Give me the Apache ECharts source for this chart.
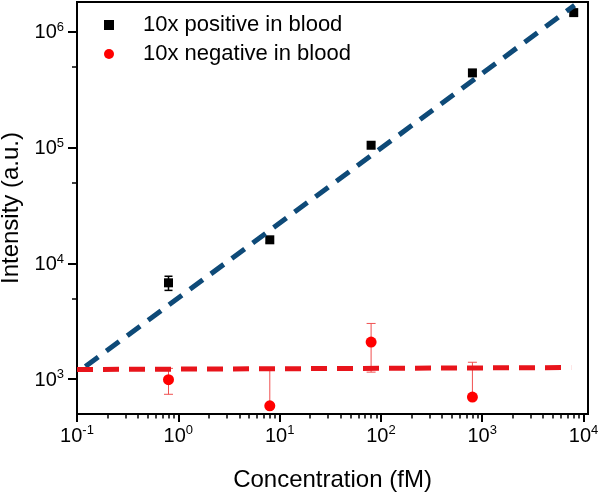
<!DOCTYPE html>
<html>
<head>
<meta charset="utf-8">
<script src="https://cdn.jsdelivr.net/npm/echarts@6/dist/echarts.min.js"></script>
<style>html,body{margin:0;padding:0;background:#fff}#c{width:600px;height:495px}</style>
</head>
<body>
<div id="c"></div>
<script>
// ---- data ----
const posX = [0.8, 8, 80, 800, 8000];
const posY = [6800, 16000, 105000, 443000, 1470000];
const posErr = [950, 900, 6000, 25000, 80000];
const negX = [0.8, 8, 80, 800];
const negY = [990, 589, 2090, 700];
const negErr = [250, 664, 940, 700];
const fitPosX = [0.121, 8150];
const fitPosY = [1285, 1700000];
const fitNegX = [0.1, 7540];
const fitNegY = [1211, 1260];
const xMajorTicks = [0.1, 1, 10, 100, 1000, 10000];
const yMajorTicks = [1000, 10000, 100000, 1000000];
const xMinorMult = [2, 3, 4, 5, 6, 7, 8, 9];
const yMinorMult = [5];
const seriesNames = ['10x positive in blood', '10x negative in blood'];

const FONT = "'Liberation Sans', Arial, sans-serif";
const xMin = 0.1, xMax = Math.pow(10, 4.044);
const yMin = 500, yMax = Math.pow(10, 6.259);

function minorList(majors, mults, lo, hi) {
  const out = [];
  majors.concat([majors[0] / 10]).forEach(m => mults.forEach(k => {
    const v = m * k; if (v > lo * 1.0001 && v < hi * 0.9999) out.push(v);
  }));
  return out;
}
const xMinor = minorList(xMajorTicks, xMinorMult, xMin, xMax);
const yMinor = minorList(yMajorTicks, yMinorMult, yMin, yMax);

function supFmt(v) {
  const e = Math.round(Math.log10(v));
  return '{b|10}{s|' + e + '}';
}
const rich = {
  b: { fontSize: 20, fontFamily: FONT, color: '#000', verticalAlign: 'bottom' },
  s: { fontSize: 13, fontFamily: FONT, color: '#000', verticalAlign: 'bottom', padding: [0, 0, 9, 0] }
};

function errData(xs, ys, es) {
  return xs.map((x, i) => [x, ys[i], ys[i] - es[i], ys[i] + es[i]]);
}
function errRender(color, lw, capW) {
  return function (params, api) {
    const x = api.value(0), lo = api.value(2), hi = api.value(3), y = api.value(1);
    const pc = api.coord([x, y]);
    const children = [];
    const top = api.coord([x, hi]);
    children.push({ type: 'line', shape: { x1: pc[0], y1: pc[1], x2: top[0], y2: top[1] }, style: { stroke: color, lineWidth: lw } });
    children.push({ type: 'line', shape: { x1: top[0] - capW, y1: top[1], x2: top[0] + capW, y2: top[1] }, style: { stroke: color, lineWidth: lw } });
    if (lo > 0) {
      const bot = api.coord([x, lo]);
      children.push({ type: 'line', shape: { x1: pc[0], y1: pc[1], x2: bot[0], y2: bot[1] }, style: { stroke: color, lineWidth: lw } });
      children.push({ type: 'line', shape: { x1: bot[0] - capW, y1: bot[1], x2: bot[0] + capW, y2: bot[1] }, style: { stroke: color, lineWidth: lw } });
    }
    return { type: 'group', children: children };
  };
}

const chart = echarts.init(document.getElementById('c'), null, { renderer: 'canvas' });
const grid = { left: 77, right: 12, top: 2, bottom: 81, containLabel: false, outerBoundsMode: 'none', show: true, borderColor: '#000', borderWidth: 2, backgroundColor: 'transparent' };

const baseX = { type: 'log', min: xMin, max: xMax, logBase: 10, splitLine: { show: false }, minorTick: { show: false } };
const baseY = { type: 'log', min: yMin, max: yMax, logBase: 10, splitLine: { show: false }, minorTick: { show: false } };

chart.setOption({
  animation: false,
  backgroundColor: '#fff',
  grid: grid,
  legend: {
    data: [{ name: seriesNames[0], icon: 'rect' }, { name: seriesNames[1], icon: 'circle' }],
    orient: 'vertical', left: 104, top: 12, padding: 0, itemGap: 3,
    itemWidth: 10, itemHeight: 10,
    textStyle: { fontSize: 22, fontFamily: FONT, color: '#000', lineHeight: 26, padding: [0, 0, 0, 24] }
  },
  xAxis: [
    Object.assign({}, baseX, {
      name: 'Concentration (fM)', nameLocation: 'middle', nameGap: 54,
      nameTextStyle: { fontSize: 24, fontFamily: FONT, color: '#000' },
      axisLine: { show: true, lineStyle: { color: '#000', width: 2 } },
      axisTick: { show: true, inside: false, length: 8, lineStyle: { color: '#000', width: 2 }, customValues: xMajorTicks },
      axisLabel: { show: true, margin: 10, customValues: xMajorTicks, formatter: supFmt, rich: rich, hideOverlap: false }
    }),
    Object.assign({}, baseX, {
      position: 'bottom', axisLine: { show: false },
      axisTick: { show: true, length: 4.5, lineStyle: { color: '#000', width: 1.5 }, customValues: xMinor },
      axisLabel: { show: false }
    })
  ],
  yAxis: [
    Object.assign({}, baseY, {
      name: 'Intensity (a.u.)', nameLocation: 'middle', nameGap: 49,
      nameTextStyle: { fontSize: 24, fontFamily: FONT, color: '#000' },
      axisLine: { show: true, lineStyle: { color: '#000', width: 2 } },
      axisTick: { show: true, length: 9, lineStyle: { color: '#000', width: 2 }, customValues: yMajorTicks },
      axisLabel: { show: true, margin: 13, customValues: yMajorTicks, formatter: supFmt, rich: rich, hideOverlap: false }
    }),
    Object.assign({}, baseY, {
      position: 'left', axisLine: { show: false },
      axisTick: { show: true, length: 5, lineStyle: { color: '#000', width: 1.5 }, customValues: yMinor },
      axisLabel: { show: false }
    })
  ],
  series: [
    {
      name: 'errPos', type: 'custom', xAxisIndex: 0, yAxisIndex: 0,
      renderItem: errRender('#000', 1.5, 4), data: errData(posX, posY, posErr), z: 3, silent: true
    },
    {
      name: 'errNeg', type: 'custom', xAxisIndex: 0, yAxisIndex: 0,
      renderItem: errRender('#f05050', 1, 4.5), data: errData(negX, negY, negErr), z: 3, silent: true
    },
    {
      name: seriesNames[0], type: 'scatter', symbol: 'rect', symbolSize: 9,
      itemStyle: { color: '#000', opacity: 1 }, data: posX.map((x, i) => [x, posY[i]]), z: 4
    },
    {
      name: seriesNames[1], type: 'scatter', symbol: 'circle', symbolSize: 11,
      itemStyle: { color: '#ff0000', opacity: 1 }, data: negX.map((x, i) => [x, negY[i]]), z: 4
    },
    {
      name: 'fitPos', type: 'line', showSymbol: false, symbol: 'none',
      lineStyle: { color: '#0e4a78', width: 5, type: [16, 10] },
      data: fitPosX.map((x, i) => [x, fitPosY[i]]), z: 5, silent: true
    },
    {
      name: 'fitNeg', type: 'line', showSymbol: false, symbol: 'none',
      lineStyle: { color: '#e8141b', width: 5, type: [16, 10] },
      data: fitNegX.map((x, i) => [x, fitNegY[i]]), z: 5, silent: true
    }
  ]
});
</script>
</body>
</html>
